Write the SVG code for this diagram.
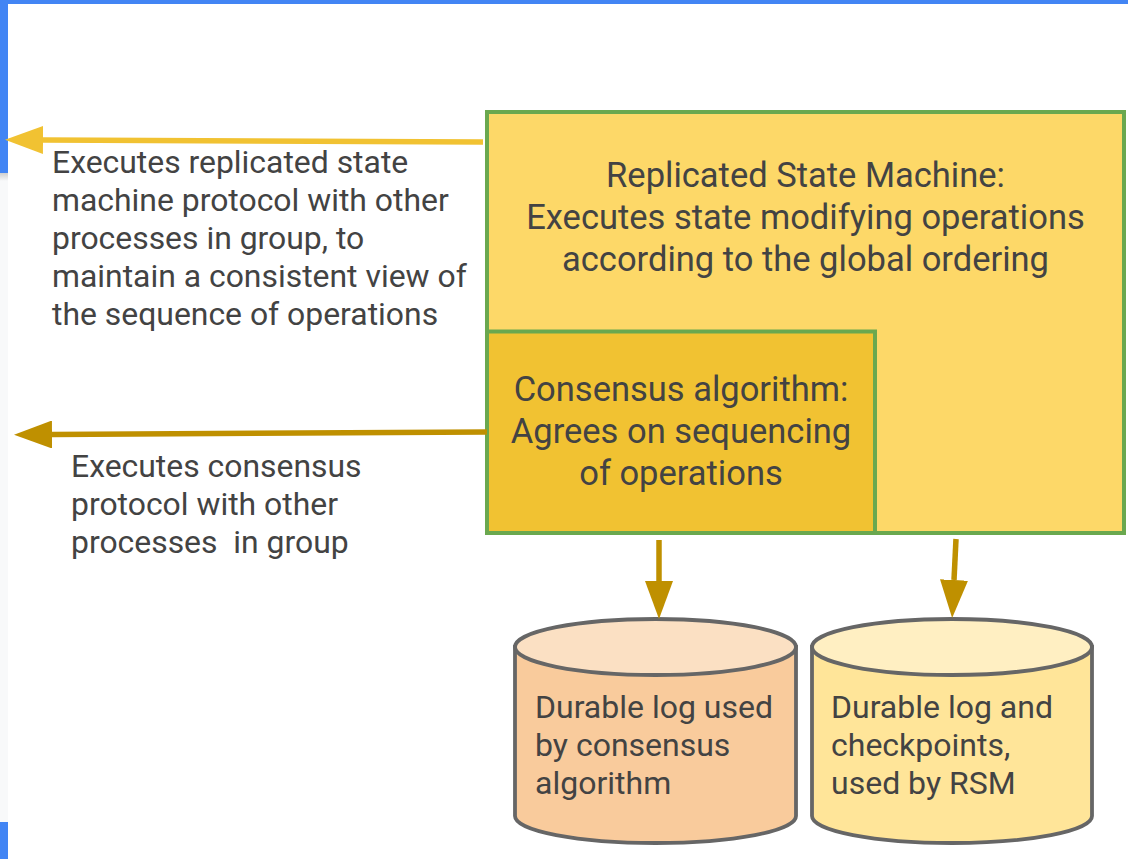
<svg xmlns="http://www.w3.org/2000/svg" width="1128" height="859" viewBox="0 0 1128 859">
  <defs>
    <style>
      .txt { font-family: Roboto, "Liberation Sans", sans-serif; fill: #434343; white-space: pre; }
      .side { font-size: 31.9px; }
      .box { font-size: 34.5px; text-anchor: middle; }
      .can { font-size: 32px; }
      .frame { stroke: #6aa84f; stroke-width: 4; }
      .drum { stroke: #666666; stroke-width: 3.8; }
      .link { fill: none; stroke-width: 5.5; }
    </style>
    <marker id="headLight" markerUnits="userSpaceOnUse" viewBox="0 0 38 28" refX="0" refY="14" markerWidth="38" markerHeight="28" orient="auto">
      <path d="M0,0 L38,14 L0,28 Z" fill="#f1c232"/>
    </marker>
    <marker id="headDark" markerUnits="userSpaceOnUse" viewBox="0 0 38 28" refX="0" refY="14" markerWidth="38" markerHeight="28" orient="auto">
      <path d="M0,0 L38,14 L0,28 Z" fill="#bf9000"/>
    </marker>
    <linearGradient id="edgeShade" x1="0" y1="0" x2="0" y2="1">
      <stop offset="0" stop-color="#cfcfcf"/>
      <stop offset="1" stop-color="#f8f9fa"/>
    </linearGradient>
  </defs>

  <!-- page background and window edges -->
  <rect x="0" y="0" width="1128" height="859" fill="#ffffff"/>
  <rect x="0" y="0" width="1128" height="4" fill="#4285f4"/>
  <rect x="0" y="0" width="8" height="173" fill="#4285f4"/>
  <rect x="0" y="173" width="8" height="649" fill="#f8f9fa"/>
  <rect x="0" y="173" width="8" height="8" fill="url(#edgeShade)"/>
  <rect x="0" y="822" width="8" height="37" fill="#4285f4"/>

  <!-- replicated state machine -->
  <g id="rsm">
    <rect class="frame" x="487" y="112" width="637" height="421" fill="#fdd868"/>
    <text class="txt box" x="805.5" y="187">Replicated State Machine:</text>
    <text class="txt box" x="805.5" y="229">Executes state modifying operations</text>
    <text class="txt box" x="805.5" y="271">according to the global ordering</text>
  </g>

  <!-- consensus module nested in the lower-left corner -->
  <g id="consensus">
    <rect class="frame" x="487" y="331.5" width="388" height="201.5" fill="#f1c232"/>
    <text class="txt box" x="681" y="401">Consensus algorithm:</text>
    <text class="txt box" x="681" y="443">Agrees on sequencing</text>
    <text class="txt box" x="681" y="485">of operations</text>
  </g>

  <!-- storage drums -->
  <g id="consensus-log">
    <path class="drum" d="M515,647 V816 A140.5,27 0 0 0 796,816 V647 Z" fill="#f9cb9c"/>
    <ellipse class="drum" cx="655.5" cy="647" rx="140.5" ry="28" fill="#fbe0c3"/>
    <text class="txt can" x="535" y="718">Durable log used</text>
    <text class="txt can" x="535" y="756">by consensus</text>
    <text class="txt can" x="535" y="794">algorithm</text>
  </g>

  <g id="rsm-log">
    <path class="drum" d="M812,647 V816 A140,27 0 0 0 1092,816 V647 Z" fill="#ffe599"/>
    <ellipse class="drum" cx="952" cy="647" rx="140" ry="28" fill="#ffefc2"/>
    <text class="txt can" x="831" y="718">Durable log and</text>
    <text class="txt can" x="831" y="756">checkpoints,</text>
    <text class="txt can" x="831" y="794">used by RSM</text>
  </g>

  <!-- side notes -->
  <g id="rsm-note">
    <text class="txt side" x="52" y="173">Executes replicated state</text>
    <text class="txt side" x="52" y="211">machine protocol with other</text>
    <text class="txt side" x="52" y="249">processes in group, to</text>
    <text class="txt side" x="52" y="287">maintain a consistent view of</text>
    <text class="txt side" x="52" y="325">the sequence of operations</text>
  </g>

  <g id="consensus-note">
    <text class="txt side" x="71" y="477">Executes consensus</text>
    <text class="txt side" x="71" y="515">protocol with other</text>
    <text class="txt side" x="71" y="553">processes  in group</text>
  </g>

  <!-- connectors -->
  <g id="connectors">
    <path class="link" d="M483,142 L43,140" stroke="#f1c232" marker-end="url(#headLight)"/>
    <path class="link" d="M487,432 L52,434.5" stroke="#bf9000" marker-end="url(#headDark)"/>
    <path class="link" d="M659,540 L659,581" stroke="#bf9000" marker-end="url(#headDark)"/>
    <path class="link" d="M956,539 L954,580" stroke="#bf9000" marker-end="url(#headDark)"/>
  </g>
</svg>
